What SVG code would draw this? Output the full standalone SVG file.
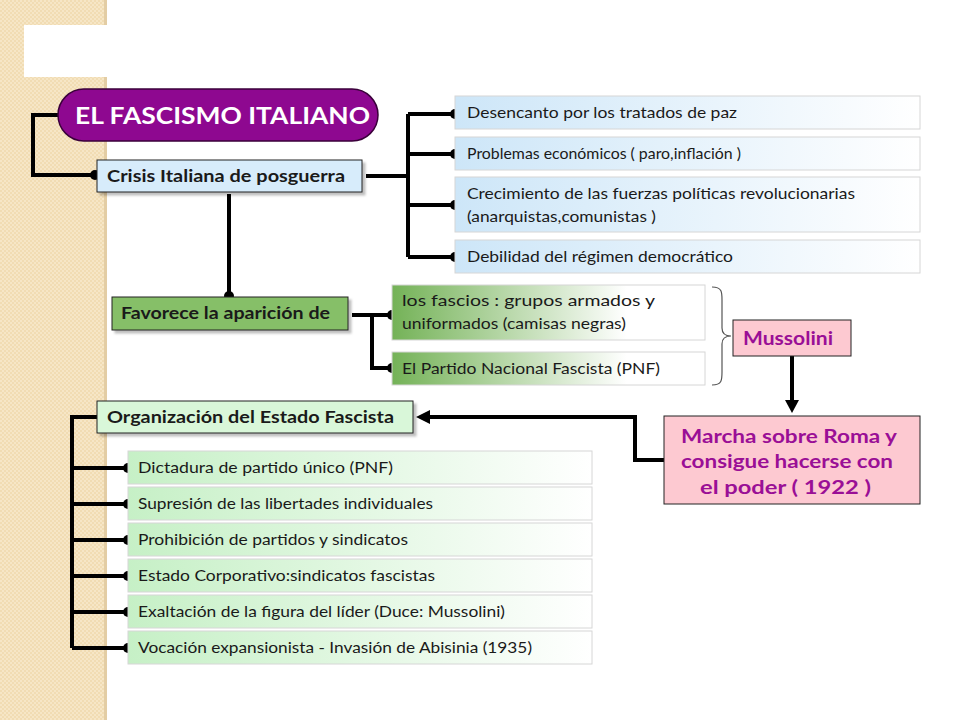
<svg xmlns="http://www.w3.org/2000/svg" width="960" height="720" viewBox="0 0 960 720">
<defs>
<pattern id="chk" width="4" height="4" patternUnits="userSpaceOnUse">
<rect width="4" height="4" fill="#f1dcb3"/>
<rect width="2" height="2" fill="#f6e6c6"/>
<rect x="2" y="2" width="2" height="2" fill="#f6e6c6"/>
</pattern>
<linearGradient id="gBlue" x1="0" y1="0" x2="1" y2="0">
<stop offset="0" stop-color="#cde6f8"/>
<stop offset="1" stop-color="#ffffff"/>
</linearGradient>
<linearGradient id="gGreenD" x1="0" y1="0" x2="1" y2="0">
<stop offset="0" stop-color="#74b257"/>
<stop offset="0.75" stop-color="#ffffff"/>
<stop offset="1" stop-color="#ffffff"/>
</linearGradient>
<linearGradient id="gGreenL" x1="0" y1="0" x2="1" y2="0">
<stop offset="0" stop-color="#c6f0c6"/>
<stop offset="1" stop-color="#ffffff"/>
</linearGradient>
<filter id="sh" x="-10%" y="-20%" width="130%" height="160%">
<feDropShadow dx="3" dy="3" stdDeviation="1" flood-color="#000" flood-opacity="0.25"/>
</filter>
<marker id="dot" viewBox="0 0 10 10" refX="5" refY="5" markerWidth="10" markerHeight="10" markerUnits="userSpaceOnUse">
<circle cx="5" cy="5" r="5" fill="#000"/>
</marker>
</defs>
<style>
.ln{fill:none;stroke:#000;stroke-width:4;stroke-linejoin:miter}
.t{font-family:Lato,"Open Sans","Liberation Sans",sans-serif;font-size:16px;fill:#1a1a1a}
.b{font-weight:bold;font-size:17px}
.item{stroke:#d6d6d6;stroke-width:1}
.hd{stroke:#222;stroke-width:1}
.pk{font-family:Lato,"Open Sans","Liberation Sans",sans-serif;font-weight:bold;fill:#9a0f96;font-size:19px}
</style>
<rect width="960" height="720" fill="#ffffff"/>
<rect x="0" y="0" width="106" height="720" fill="url(#chk)"/>
<rect x="104" y="0" width="3" height="720" fill="#e3cda4"/>
<rect x="24" y="25" width="83" height="52" fill="#ffffff"/>

<g id="connectors">
<path class="ln" d="M60,115 H33 V175 H95" marker-end="url(#dot)"/>
<path class="ln" d="M366,176 H408"/>
<path class="ln" d="M408,114 V257"/>
<path class="ln" d="M408,114 H455" marker-end="url(#dot)"/>
<path class="ln" d="M408,154 H455" marker-end="url(#dot)"/>
<path class="ln" d="M408,205 H455" marker-end="url(#dot)"/>
<path class="ln" d="M408,257 H455" marker-end="url(#dot)"/>
<path class="ln" d="M229,194 V296" marker-end="url(#dot)"/>
<path class="ln" d="M352,315 H392" marker-end="url(#dot)"/>
<path class="ln" d="M372,315 V368 H392" marker-end="url(#dot)"/>
<path d="M712,287 C722,287 722,292 722,300 V328 C722,334 726,336 731,336 C726,336 722,338 722,344 V372 C722,380 722,385 712,385" fill="none" stroke="#555" stroke-width="1.2"/>
<path class="ln" d="M792,356 V402"/>
<path d="M785,400 L799,400 L792,413 z" fill="#000"/>
<path class="ln" d="M664,460 H635 V417 H428"/>
<path d="M430,410 L430,424 L416,417 z" fill="#000"/>
<path class="ln" d="M97,417 H72 V648"/>
<path class="ln" d="M72,468 H128" marker-end="url(#dot)"/>
<path class="ln" d="M72,504 H128" marker-end="url(#dot)"/>
<path class="ln" d="M72,540 H128" marker-end="url(#dot)"/>
<path class="ln" d="M72,576 H128" marker-end="url(#dot)"/>
<path class="ln" d="M72,612 H128" marker-end="url(#dot)"/>
<path class="ln" d="M72,648 H128" marker-end="url(#dot)"/>
</g>

<g id="title">
<rect x="58" y="89" width="320" height="52" rx="26" fill="#8e0890" stroke="#3a003a" stroke-width="1.5"/>
<text x="75" y="124" textLength="295" lengthAdjust="spacingAndGlyphs" font-family="Lato,'Open Sans','Liberation Sans',sans-serif" font-weight="bold" font-size="23" fill="#ffffff">EL FASCISMO ITALIANO</text>
</g>

<g id="crisis">
<rect x="97" y="160" width="265" height="32" fill="#d7ecfb" class="hd" filter="url(#sh)"/>
<text x="107" y="182" class="t b" textLength="238" lengthAdjust="spacingAndGlyphs">Crisis Italiana de posguerra</text>
</g>

<g id="desencanto">
<rect x="455" y="96" width="465" height="33" fill="url(#gBlue)" class="item"/>
<text x="467" y="118" class="t" textLength="270" lengthAdjust="spacingAndGlyphs">Desencanto por los tratados de paz</text>
</g>
<g id="problemas">
<rect x="455" y="137" width="465" height="33" fill="url(#gBlue)" class="item"/>
<text x="467" y="159" class="t" textLength="274" lengthAdjust="spacingAndGlyphs">Problemas económicos ( paro,inflación )</text>
</g>
<g id="crecimiento">
<rect x="455" y="177" width="465" height="55" fill="url(#gBlue)" class="item"/>
<text x="467" y="199" class="t" textLength="388" lengthAdjust="spacingAndGlyphs">Crecimiento de las fuerzas políticas revolucionarias</text>
<text x="467" y="222" class="t" textLength="189" lengthAdjust="spacingAndGlyphs">(anarquistas,comunistas )</text>
</g>
<g id="debilidad">
<rect x="455" y="240" width="465" height="33" fill="url(#gBlue)" class="item"/>
<text x="467" y="262" class="t" textLength="266" lengthAdjust="spacingAndGlyphs">Debilidad del régimen democrático</text>
</g>

<g id="favorece">
<rect x="112" y="297" width="236" height="33" fill="#86bf68" class="hd" filter="url(#sh)"/>
<text x="121" y="319" class="t b" textLength="209" lengthAdjust="spacingAndGlyphs">Favorece la aparición de</text>
</g>

<g id="fascios">
<rect x="392" y="285" width="313" height="55" fill="url(#gGreenD)" class="item"/>
<text x="402" y="306" class="t" textLength="253" lengthAdjust="spacingAndGlyphs">los fascios : grupos armados y</text>
<text x="402" y="329" class="t" textLength="224" lengthAdjust="spacingAndGlyphs">uniformados (camisas negras)</text>
</g>
<g id="pnf">
<rect x="392" y="352" width="313" height="33" fill="url(#gGreenD)" class="item"/>
<text x="402" y="374" class="t" textLength="258" lengthAdjust="spacingAndGlyphs">El Partido Nacional Fascista  (PNF)</text>
</g>

<g id="mussolini">
<rect x="733" y="320" width="118" height="36" fill="#fdc9d1" stroke="#222" stroke-width="1"/>
<text x="743" y="345" class="pk" font-size="18" textLength="90" lengthAdjust="spacingAndGlyphs">Mussolini</text>
</g>

<g id="marcha">
<rect x="664" y="416" width="256" height="88" fill="#fdc9d1" stroke="#222" stroke-width="1"/>
<text x="681" y="443" class="pk" textLength="216" lengthAdjust="spacingAndGlyphs">Marcha sobre Roma y</text>
<text x="681" y="468" class="pk" textLength="212" lengthAdjust="spacingAndGlyphs">consigue hacerse con</text>
<text x="700" y="494" class="pk" textLength="171" lengthAdjust="spacingAndGlyphs">el poder ( 1922 )</text>
</g>

<g id="organizacion">
<rect x="97" y="401" width="316" height="32" fill="#d9f7d9" class="hd" filter="url(#sh)"/>
<text x="107" y="423" class="t b" textLength="287" lengthAdjust="spacingAndGlyphs">Organización del Estado Fascista</text>
</g>

<g id="dictadura">
<rect x="128" y="451" width="464" height="33" fill="url(#gGreenL)" class="item"/>
<text x="138" y="473" class="t" textLength="255" lengthAdjust="spacingAndGlyphs">Dictadura de partido único (PNF)</text>
</g>
<g id="supresion">
<rect x="128" y="487" width="464" height="33" fill="url(#gGreenL)" class="item"/>
<text x="138" y="509" class="t" textLength="295" lengthAdjust="spacingAndGlyphs">Supresión de las libertades individuales</text>
</g>
<g id="prohibicion">
<rect x="128" y="523" width="464" height="33" fill="url(#gGreenL)" class="item"/>
<text x="138" y="545" class="t" textLength="270" lengthAdjust="spacingAndGlyphs">Prohibición de partidos y sindicatos</text>
</g>
<g id="corporativo">
<rect x="128" y="559" width="464" height="33" fill="url(#gGreenL)" class="item"/>
<text x="138" y="581" class="t" textLength="297" lengthAdjust="spacingAndGlyphs">Estado Corporativo:sindicatos fascistas</text>
</g>
<g id="exaltacion">
<rect x="128" y="595" width="464" height="33" fill="url(#gGreenL)" class="item"/>
<text x="138" y="617" class="t" textLength="367" lengthAdjust="spacingAndGlyphs">Exaltación de la figura del líder (Duce: Mussolini)</text>
</g>
<g id="vocacion">
<rect x="128" y="631" width="464" height="33" fill="url(#gGreenL)" class="item"/>
<text x="138" y="653" class="t" textLength="394" lengthAdjust="spacingAndGlyphs">Vocación expansionista - Invasión de Abisinia (1935)</text>
</g>
</svg>
